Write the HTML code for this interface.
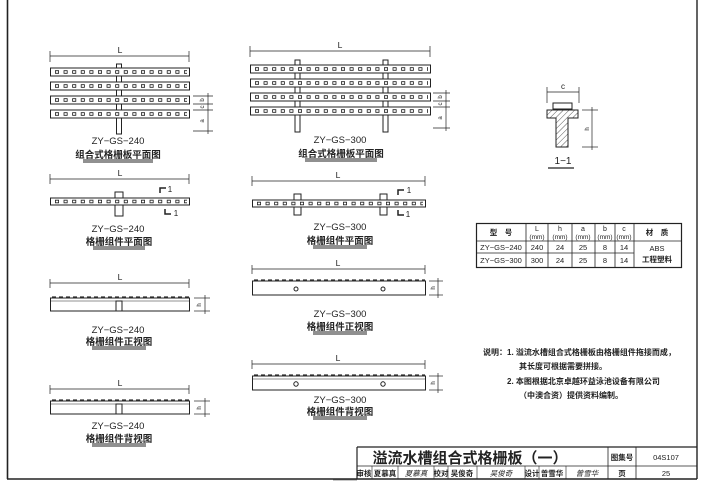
<!DOCTYPE html>
<html><head><meta charset="utf-8"><style>
html,body{margin:0;padding:0;background:#fff;width:707px;height:502px;overflow:hidden}
svg{display:block}
text{font-family:"Liberation Sans","Noto Sans CJK SC",sans-serif;fill:#222}
.h1{stroke:#222;stroke-width:3.4;stroke-dasharray:4 4.6}
.h2{stroke:#fff;stroke-width:1.8;stroke-dasharray:2.4 6.2;stroke-dashoffset:-0.8}
.ds{stroke:#333;stroke-width:1.3;stroke-dasharray:4 3}
</style></head><body>
<svg width="707" height="502" viewBox="0 0 707 502" xmlns="http://www.w3.org/2000/svg">
<defs>
<pattern id="hatch" width="4" height="4" patternUnits="userSpaceOnUse" patternTransform="rotate(45)">
<line x1="0" y1="0" x2="0" y2="4" stroke="#333" stroke-width="0.8"/>
</pattern>
</defs>
<g fill="none" stroke="#222" stroke-width="1">
<line x1="7.5" y1="0" x2="7.5" y2="479" stroke-width="1.6"/>
<line x1="7" y1="479" x2="697" y2="479" stroke-width="1.4"/>
<line x1="697" y1="0" x2="697" y2="479" stroke-width="1.4"/>

<!-- LEFT PLAN 240 -->
<line x1="50" y1="56" x2="189" y2="56" stroke-width="0.7"/>
<line x1="50" y1="51" x2="50" y2="62" stroke-width="0.7"/><line x1="189" y1="51" x2="189" y2="62" stroke-width="0.7"/>
<rect x="116.5" y="64" width="5" height="70" fill="#fff"/>
<rect x="50.5" y="68" width="139" height="8" fill="#fff"/><rect x="50.5" y="82" width="139" height="8" fill="#fff"/>
<rect x="50.5" y="96" width="139" height="8" fill="#fff"/><rect x="50.5" y="110" width="139" height="8" fill="#fff"/>
</g>
<g fill="none">
<line class="h1" x1="55" y1="72" x2="187" y2="72"/><line class="h2" x1="55" y1="72" x2="187" y2="72"/>
<line class="h1" x1="55" y1="86" x2="187" y2="86"/><line class="h2" x1="55" y1="86" x2="187" y2="86"/>
<line class="h1" x1="55" y1="100" x2="187" y2="100"/><line class="h2" x1="55" y1="100" x2="187" y2="100"/>
<line class="h1" x1="55" y1="114" x2="187" y2="114"/><line class="h2" x1="55" y1="114" x2="187" y2="114"/>
</g>
<g fill="none" stroke="#222" stroke-width="1">
<line x1="193" y1="96" x2="213" y2="96" stroke-width="0.7"/><line x1="193" y1="104" x2="213" y2="104" stroke-width="0.7"/>
<line x1="193" y1="110" x2="213" y2="110" stroke-width="0.7"/><line x1="193" y1="131" x2="213" y2="131" stroke-width="0.7"/>
<line x1="208" y1="93" x2="208" y2="134" stroke-width="0.7"/>

<!-- RIGHT PLAN 300 -->
<line x1="250" y1="51" x2="430" y2="51" stroke-width="0.7"/>
<line x1="250" y1="46" x2="250" y2="57" stroke-width="0.7"/><line x1="430" y1="46" x2="430" y2="57" stroke-width="0.7"/>
<rect x="295" y="60" width="5" height="72" fill="#fff"/><rect x="383" y="60" width="5" height="72" fill="#fff"/>
<rect x="250.5" y="65" width="180" height="8" fill="#fff"/><rect x="250.5" y="79" width="180" height="8" fill="#fff"/>
<rect x="250.5" y="93" width="180" height="8" fill="#fff"/><rect x="250.5" y="107" width="180" height="8" fill="#fff"/>
</g>
<g fill="none">
<line class="h1" x1="255" y1="69" x2="428" y2="69"/><line class="h2" x1="255" y1="69" x2="428" y2="69"/>
<line class="h1" x1="255" y1="83" x2="428" y2="83"/><line class="h2" x1="255" y1="83" x2="428" y2="83"/>
<line class="h1" x1="255" y1="97" x2="428" y2="97"/><line class="h2" x1="255" y1="97" x2="428" y2="97"/>
<line class="h1" x1="255" y1="111" x2="428" y2="111"/><line class="h2" x1="255" y1="111" x2="428" y2="111"/>
</g>
<g fill="none" stroke="#222" stroke-width="1">
<line x1="433" y1="93" x2="450" y2="93" stroke-width="0.7"/><line x1="433" y1="101" x2="450" y2="101" stroke-width="0.7"/>
<line x1="433" y1="107" x2="450" y2="107" stroke-width="0.7"/><line x1="433" y1="128" x2="450" y2="128" stroke-width="0.7"/>
<line x1="446" y1="90" x2="446" y2="131" stroke-width="0.7"/>

<!-- ROW2 LEFT -->
<line x1="50" y1="179" x2="189" y2="179" stroke-width="0.7"/>
<line x1="50" y1="174" x2="50" y2="184" stroke-width="0.7"/><line x1="189" y1="174" x2="189" y2="184" stroke-width="0.7"/>
<rect x="115" y="192" width="8" height="24" fill="#fff"/>
<rect x="50.5" y="198" width="139" height="7" fill="#fff"/>
<path d="M160 193 V188 H166" stroke-width="1.5"/><path d="M165 209 V214 H171" stroke-width="1.5"/>

<!-- ROW2 RIGHT -->
<line x1="252" y1="181" x2="425" y2="181" stroke-width="0.7"/>
<line x1="252" y1="176" x2="252" y2="186" stroke-width="0.7"/><line x1="425" y1="176" x2="425" y2="186" stroke-width="0.7"/>
<rect x="294" y="194" width="7" height="21" fill="#fff"/><rect x="380" y="194" width="7" height="21" fill="#fff"/>
<rect x="252.5" y="200" width="173" height="7" fill="#fff"/>
<path d="M398 195 V190 H404" stroke-width="1.5"/><path d="M398 210 V215 H404" stroke-width="1.5"/>
</g>
<g fill="none">
<line class="h1" x1="55" y1="201.5" x2="187" y2="201.5"/><line class="h2" x1="55" y1="201.5" x2="187" y2="201.5"/>
<line class="h1" x1="257" y1="203.5" x2="423" y2="203.5"/><line class="h2" x1="257" y1="203.5" x2="423" y2="203.5"/>
<line class="ds" x1="52" y1="297" x2="189" y2="297"/>
<line class="ds" x1="254" y1="280" x2="425" y2="280"/>
<line class="ds" x1="52" y1="400" x2="189" y2="400"/>
<line class="ds" x1="254" y1="375" x2="425" y2="375"/>
</g>
<g fill="none" stroke="#222" stroke-width="1">
<!-- ROW3 LEFT front -->
<line x1="50" y1="283" x2="189" y2="283" stroke-width="0.7"/>
<line x1="50" y1="279" x2="50" y2="288" stroke-width="0.7"/><line x1="189" y1="279" x2="189" y2="288" stroke-width="0.7"/>
<rect x="50.5" y="298" width="139" height="13"/>
<line x1="50" y1="301" x2="190" y2="301" stroke-width="0.6"/>
<rect x="116" y="301" width="6" height="10"/>
<line x1="194" y1="298" x2="210" y2="298" stroke-width="0.7"/><line x1="194" y1="311" x2="210" y2="311" stroke-width="0.7"/>
<line x1="205" y1="295" x2="205" y2="314" stroke-width="0.7"/>

<!-- ROW3 RIGHT front -->
<line x1="252" y1="269" x2="425" y2="269" stroke-width="0.7"/>
<line x1="252" y1="265" x2="252" y2="274" stroke-width="0.7"/><line x1="425" y1="265" x2="425" y2="274" stroke-width="0.7"/>
<rect x="252.5" y="281" width="173" height="14"/>
<circle cx="296" cy="289" r="2"/><circle cx="383" cy="289" r="2"/>
<line x1="429" y1="281" x2="443" y2="281" stroke-width="0.7"/><line x1="429" y1="295" x2="443" y2="295" stroke-width="0.7"/>
<line x1="438" y1="278" x2="438" y2="298" stroke-width="0.7"/>

<!-- ROW4 LEFT back -->
<line x1="50" y1="389" x2="189" y2="389" stroke-width="0.7"/>
<line x1="50" y1="385" x2="50" y2="394" stroke-width="0.7"/><line x1="189" y1="385" x2="189" y2="394" stroke-width="0.7"/>
<rect x="50.5" y="401" width="139" height="13"/>
<line x1="50" y1="404" x2="190" y2="404" stroke-width="0.6"/>
<rect x="116" y="404" width="6" height="10"/>
<line x1="194" y1="401" x2="210" y2="401" stroke-width="0.7"/><line x1="194" y1="414" x2="210" y2="414" stroke-width="0.7"/>
<line x1="205" y1="398" x2="205" y2="417" stroke-width="0.7"/>

<!-- ROW4 RIGHT back -->
<line x1="252" y1="364" x2="425" y2="364" stroke-width="0.7"/>
<line x1="252" y1="360" x2="252" y2="369" stroke-width="0.7"/><line x1="425" y1="360" x2="425" y2="369" stroke-width="0.7"/>
<rect x="252.5" y="376" width="173" height="14"/>
<line x1="252" y1="379" x2="426" y2="379" stroke-width="0.6"/>
<circle cx="296" cy="384" r="2.2"/><circle cx="383" cy="384" r="2.2"/>
<line x1="429" y1="376" x2="443" y2="376" stroke-width="0.7"/><line x1="429" y1="390" x2="443" y2="390" stroke-width="0.7"/>
<line x1="438" y1="373" x2="438" y2="393" stroke-width="0.7"/>

<!-- SECTION 1-1 -->
<line x1="547" y1="92" x2="579" y2="92" stroke-width="0.7"/>
<line x1="547" y1="87" x2="547" y2="103" stroke-width="0.7"/><line x1="579" y1="87" x2="579" y2="103" stroke-width="0.7"/>
<rect x="553" y="103" width="19" height="6"/>
<path d="M547 110 H578 V118 H568 V147 H556 V118 H547 Z" fill="url(#hatch)"/>
<line x1="582" y1="110" x2="598" y2="110" stroke-width="0.7"/><line x1="582" y1="147" x2="598" y2="147" stroke-width="0.7"/>
<line x1="592" y1="107" x2="592" y2="150" stroke-width="0.7"/>
<line x1="548" y1="168" x2="574" y2="168" stroke-width="1.2"/>

<!-- TABLE -->
<rect x="476.5" y="223.5" width="205" height="44" stroke-width="1.2"/>
<line x1="476" y1="241" x2="681" y2="241" stroke-width="0.8"/>
<line x1="476" y1="253" x2="634" y2="253" stroke-width="0.8"/>
<line x1="526" y1="223" x2="526" y2="268" stroke-width="0.8"/><line x1="548" y1="223" x2="548" y2="268" stroke-width="0.8"/>
<line x1="572" y1="223" x2="572" y2="268" stroke-width="0.8"/><line x1="595" y1="223" x2="595" y2="268" stroke-width="0.8"/>
<line x1="615" y1="223" x2="615" y2="268" stroke-width="0.8"/><line x1="634" y1="223" x2="634" y2="268" stroke-width="0.8"/>

<!-- TITLE BLOCK -->
<line x1="357" y1="447" x2="697" y2="447" stroke-width="1.2"/>
<line x1="357" y1="447" x2="357" y2="479" stroke-width="1.2"/>
<line x1="357" y1="466" x2="697" y2="466" stroke-width="0.8"/>
<line x1="608" y1="447" x2="608" y2="479" stroke-width="0.8"/>
<line x1="636" y1="447" x2="636" y2="479" stroke-width="0.8"/>
<line x1="372" y1="466" x2="372" y2="479" stroke-width="0.6"/><line x1="398" y1="466" x2="398" y2="479" stroke-width="0.6"/>
<line x1="434" y1="466" x2="434" y2="479" stroke-width="0.6"/><line x1="448" y1="466" x2="448" y2="479" stroke-width="0.6"/>
<line x1="477" y1="466" x2="477" y2="479" stroke-width="0.6"/><line x1="525" y1="466" x2="525" y2="479" stroke-width="0.6"/>
<line x1="539" y1="466" x2="539" y2="479" stroke-width="0.6"/><line x1="566" y1="466" x2="566" y2="479" stroke-width="0.6"/>
<line x1="333" y1="480" x2="357" y2="480" stroke-width="0.6"/>
</g>

<g stroke="#222">
<line x1="83" y1="160" x2="153" y2="160" stroke-width="1"/><line x1="83" y1="162" x2="153" y2="162" stroke-width="1"/>
<line x1="305" y1="159" x2="377" y2="159" stroke-width="1"/><line x1="305" y1="161" x2="377" y2="161" stroke-width="1"/>
<line x1="93" y1="247" x2="145" y2="247" stroke-width="1"/><line x1="93" y1="249" x2="145" y2="249" stroke-width="1"/>
<line x1="313" y1="246" x2="367" y2="246" stroke-width="1"/><line x1="313" y1="248" x2="367" y2="248" stroke-width="1"/>
<line x1="92" y1="347" x2="146" y2="347" stroke-width="1"/><line x1="92" y1="349" x2="146" y2="349" stroke-width="1"/>
<line x1="313" y1="332" x2="367" y2="332" stroke-width="1"/><line x1="313" y1="334" x2="367" y2="334" stroke-width="1"/>
<line x1="92" y1="444" x2="146" y2="444" stroke-width="1"/><line x1="92" y1="446" x2="146" y2="446" stroke-width="1"/>
<line x1="313" y1="417" x2="367" y2="417" stroke-width="1"/><line x1="313" y1="419" x2="367" y2="419" stroke-width="1"/>
</g>

<g font-size="8.5" text-anchor="middle">
<text x="120" y="53">L</text><text x="340" y="48">L</text>
<text x="120" y="176">L</text><text x="338" y="178">L</text>
<text x="120" y="280">L</text><text x="338" y="266">L</text>
<text x="120" y="386">L</text><text x="338" y="361">L</text>
<text x="118" y="144" font-size="9.5">ZY−GS−240</text>
<text x="340" y="143" font-size="9.5">ZY−GS−300</text>
<text x="118" y="232" font-size="9.5">ZY−GS−240</text>
<text x="340" y="230" font-size="9.5">ZY−GS−300</text>
<text x="118" y="333" font-size="9.5">ZY−GS−240</text>
<text x="340" y="317" font-size="9.5">ZY−GS−300</text>
<text x="118" y="429" font-size="9.5">ZY−GS−240</text>
<text x="340" y="403" font-size="9.5">ZY−GS−300</text>
<text x="118" y="158" font-size="9.5" font-weight="bold">组合式格栅板平面图</text>
<text x="341" y="157" font-size="9.5" font-weight="bold">组合式格栅板平面图</text>
<text x="119" y="245" font-size="9.5" font-weight="bold">格栅组件平面图</text>
<text x="340" y="244" font-size="9.5" font-weight="bold">格栅组件平面图</text>
<text x="119" y="345" font-size="9.5" font-weight="bold">格栅组件正视图</text>
<text x="340" y="330" font-size="9.5" font-weight="bold">格栅组件正视图</text>
<text x="119" y="442" font-size="9.5" font-weight="bold">格栅组件背视图</text>
<text x="340" y="415" font-size="9.5" font-weight="bold">格栅组件背视图</text>
<text x="170" y="192" font-size="8">1</text><text x="176" y="216" font-size="8">1</text>
<text x="409" y="193" font-size="8">1</text><text x="408" y="217" font-size="8">1</text>
<text x="563" y="89" font-size="8">c</text>
<text x="563" y="164" font-size="10">1−1</text>
</g>
<g font-size="6" text-anchor="middle">
<text x="202" y="102" transform="rotate(-90 202 100)">b</text>
<text x="202" y="109" transform="rotate(-90 202 107)">c</text>
<text x="202" y="123" transform="rotate(-90 202 121)">a</text>
<text x="440" y="99" transform="rotate(-90 440 97)">b</text>
<text x="440" y="106" transform="rotate(-90 440 104)">c</text>
<text x="440" y="120" transform="rotate(-90 440 118)">a</text>
<text x="199" y="307" transform="rotate(-90 199 305)">h</text>
<text x="199" y="410" transform="rotate(-90 199 408)">h</text>
<text x="433" y="290" transform="rotate(-90 433 288)">h</text>
<text x="433" y="385" transform="rotate(-90 433 383)">h</text>
<text x="587" y="131" transform="rotate(-90 587 129)">h</text>
</g>

<g font-size="7.5" text-anchor="middle">
<text x="501" y="235" font-weight="bold">型　号</text>
<text x="537" y="231" font-size="7">L</text><text x="537" y="239" font-size="6.5">(mm)</text>
<text x="560" y="231" font-size="7">h</text><text x="560" y="239" font-size="6.5">(mm)</text>
<text x="583" y="231" font-size="7">a</text><text x="583" y="239" font-size="6.5">(mm)</text>
<text x="605" y="231" font-size="7">b</text><text x="605" y="239" font-size="6.5">(mm)</text>
<text x="624" y="231" font-size="7">c</text><text x="624" y="239" font-size="6.5">(mm)</text>
<text x="657" y="235" font-weight="bold">材　质</text>
<text x="501" y="250">ZY−GS−240</text><text x="537" y="250">240</text><text x="560" y="250">24</text><text x="583" y="250">25</text><text x="605" y="250">8</text><text x="624" y="250">14</text>
<text x="501" y="263">ZY−GS−300</text><text x="537" y="263">300</text><text x="560" y="263">24</text><text x="583" y="263">25</text><text x="605" y="263">8</text><text x="624" y="263">14</text>
<text x="657" y="251">ABS</text><text x="657" y="262" font-weight="bold">工程塑料</text>
</g>

<g font-size="8" font-weight="bold">
<text x="483" y="355">说明：1.  溢流水槽组合式格栅板由格栅组件拖接而成，</text>
<text x="519" y="369">其长度可根据需要拼接。</text>
<text x="507" y="384">2.  本图根据北京卓越环益泳池设备有限公司</text>
<text x="519" y="398">（中澳合资）提供资料编制。</text>
</g>

<text x="470" y="463" font-size="15" font-weight="bold" text-anchor="middle">溢流水槽组合式格栅板（一）</text>
<g font-size="7.5" font-weight="bold" text-anchor="middle">
<text x="622" y="460">图集号</text><text x="666" y="460" font-weight="normal">04S107</text>
<text x="622" y="476">页</text><text x="666" y="476" font-weight="normal">25</text>
<text x="364" y="476">审核</text><text x="385" y="476">夏慕真</text>
<text x="416" y="476" font-style="italic" font-weight="normal">夏慕真</text>
<text x="441" y="476">校对</text><text x="462" y="476">吴俊奇</text>
<text x="501" y="476" font-style="italic" font-weight="normal">吴俊奇</text>
<text x="532" y="476">设计</text><text x="552" y="476">曾雪华</text>
<text x="587" y="476" font-style="italic" font-weight="normal">曾雪华</text>
</g>
</svg>
</body></html>
